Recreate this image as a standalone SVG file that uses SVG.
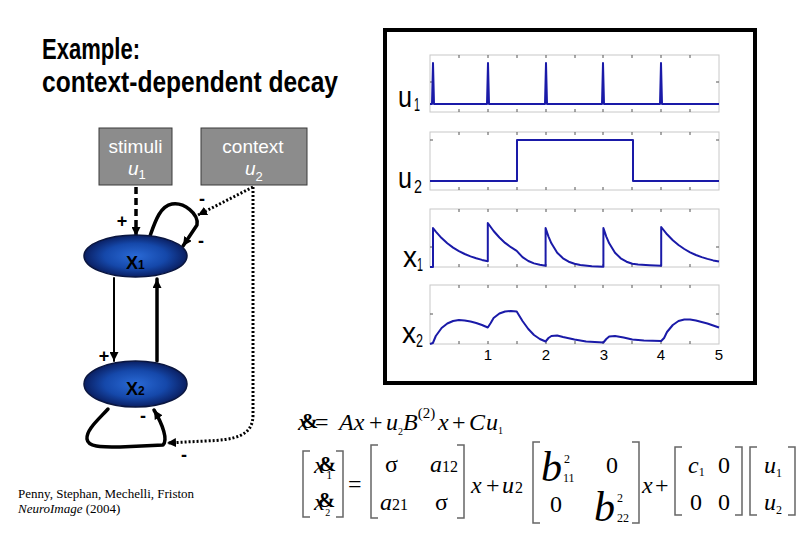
<svg xmlns="http://www.w3.org/2000/svg" width="810" height="540" viewBox="0 0 810 540">
<style>
.title{font-family:"Liberation Sans",Arial,sans-serif;font-weight:bold;font-size:30px;fill:#000}
.box{fill:#8c8c8c;stroke:#3a3a3a;stroke-width:1}
.bt{font-family:"Liberation Sans",Arial,sans-serif;font-size:19px;fill:#fff}
.bi{font-family:"Liberation Sans",Arial,sans-serif;font-size:19px;font-style:italic;fill:#fff}
.bs{font-family:"Liberation Sans",Arial,sans-serif;font-size:13px;font-style:normal}
.node{fill:url(#blue);stroke:#0a1640;stroke-width:1.5}
.nt{font-family:"Liberation Sans",Arial,sans-serif;font-size:18px;font-weight:bold;fill:#000}
.ns{font-size:12px}
.sign{font-family:"Liberation Sans",Arial,sans-serif;font-size:18px;font-weight:bold;fill:#000;text-anchor:middle}
.solid{fill:none;stroke:#000;stroke-linecap:round;stroke-linejoin:round}
.dot{fill:none;stroke:#000;stroke-width:3;stroke-dasharray:2 2}
.dash{fill:none;stroke:#000;stroke-width:3.5;stroke-dasharray:7 4}
.ax{fill:none;stroke:#c8c8c8;stroke-width:1}
.tk{fill:none;stroke:#555;stroke-width:1}
.data{fill:none;stroke:#1a1aa8;stroke-width:2;stroke-linejoin:round}
.pl{font-family:"Liberation Sans",Arial,sans-serif;font-size:30px;fill:#000}
.ps{font-family:"Liberation Sans",Arial,sans-serif;font-size:19px;fill:#000}
.tl{font-family:"Liberation Sans",Arial,sans-serif;font-size:15px;fill:#000;text-anchor:middle}
.m{font-family:"Liberation Serif","Times New Roman",serif;font-size:24px;fill:#000}
.mi{font-family:"Liberation Serif","Times New Roman",serif;font-size:24px;font-style:italic;fill:#000}
.amp{font-family:"Liberation Serif","Times New Roman",serif;font-size:21px;font-weight:bold;font-style:normal;fill:#000}
.sub{font-family:"Liberation Serif","Times New Roman",serif;font-size:12px;fill:#000}
.ts{font-size:12px;font-style:normal;font-weight:normal}
.t10{font-size:10px;font-style:normal}
.t15{font-size:15px;font-style:normal}
.t16{font-size:16px;font-style:normal}
.big{font-family:"Liberation Serif","Times New Roman",serif;font-size:42px;font-style:italic;fill:#000}
.br{fill:none;stroke:#666;stroke-width:1.5}
.cite{font-family:"Liberation Serif","Times New Roman",serif;font-size:13px;fill:#000}
</style>
<defs>
<radialGradient id="blue" cx="50%" cy="50%" r="50%">
<stop offset="0" stop-color="#2a6ad6"/>
<stop offset="0.6" stop-color="#1548aa"/>
<stop offset="1" stop-color="#0a1f62"/>
</radialGradient>
<marker id="ah" viewBox="0 0 10 10" refX="10" refY="5" markerWidth="9" markerHeight="9" markerUnits="userSpaceOnUse" orient="auto">
<path d="M0,0 L10,5 L0,10 z" fill="#000"/>
</marker>
</defs>
<rect width="810" height="540" fill="#fff"/>

<g id="title">
<text class="title" x="42" y="59" textLength="98" lengthAdjust="spacingAndGlyphs">Example:</text>
<text class="title" x="42" y="92" textLength="296" lengthAdjust="spacingAndGlyphs">context-dependent decay</text>
</g>

<g id="stimuli">
<rect class="box" x="99" y="128" width="73" height="57"/>
<text class="bt" x="135.5" y="153" text-anchor="middle">stimuli</text>
<text class="bi" x="128" y="175">u<tspan class="bs" dy="4">1</tspan></text>
</g>

<g id="context">
<rect class="box" x="201" y="128" width="106" height="57"/>
<text class="bt" x="253" y="153" text-anchor="middle">context</text>
<text class="bi" x="245" y="175">u<tspan class="bs" dy="6">2</tspan></text>
</g>

<g id="connectors">
<line class="dash" x1="136" y1="187" x2="136" y2="236" marker-end="url(#ah)"/>
<path class="solid" stroke-width="3.5" d="M150,236 C155,222 160,206 172,204 C184,202 199,214 197,225 L183,246" marker-end="url(#ah)"/>
<path class="dot" d="M253,187 L198,215" marker-end="url(#ah)"/>
<line class="solid" stroke-width="2" x1="114" y1="278" x2="114" y2="361" marker-end="url(#ah)"/>
<line class="solid" stroke-width="3.5" x1="157" y1="361" x2="157" y2="279" marker-end="url(#ah)"/>
<path class="solid" stroke-width="3.5" d="M108,409 C98,420 86,430 87,439 C88,447 100,447 120,447 L163,445 C168,440 163,425 154,410" marker-end="url(#ah)"/>
<path class="dot" d="M253,187 L253,415 C253,436 235,440 205,441 L167,443" marker-end="url(#ah)"/>
<text class="sign" x="122" y="227">+</text>
<text class="sign" x="202" y="205">-</text>
<text class="sign" x="201" y="247">-</text>
<text class="sign" x="104" y="362">+</text>
<text class="sign" x="143" y="422">-</text>
<text class="sign" x="184" y="461">-</text>
</g>

<g id="x1">
<ellipse class="node" cx="135.5" cy="256" rx="51.5" ry="21"/>
<text class="nt" x="126" y="269">X<tspan class="ns">1</tspan></text>
</g>

<g id="x2">
<ellipse class="node" cx="135.5" cy="384" rx="51.5" ry="23"/>
<text class="nt" x="126" y="395">X<tspan class="ns">2</tspan></text>
</g>

<g id="plots">
<rect x="385" y="30" width="370" height="353" fill="#fff" stroke="#000" stroke-width="4"/>
<rect class="ax" x="430" y="55" width="289" height="57"/>
<rect class="ax" x="430" y="132" width="289" height="58"/>
<rect class="ax" x="430" y="209" width="289" height="58"/>
<rect class="ax" x="430" y="285" width="289" height="59"/>
<path class="tk" d="M459,55v3M488,55v3M517,55v3M546,55v3M575,55v3M603,55v3M632,55v3M661,55v3M690,55v3M459,112v-3M488,112v-3M517,112v-3M546,112v-3M575,112v-3M603,112v-3M632,112v-3M661,112v-3M690,112v-3M430,82h3M719,82h-3
M459,132v3M488,132v3M517,132v3M546,132v3M575,132v3M603,132v3M632,132v3M661,132v3M690,132v3M459,190v-3M488,190v-3M517,190v-3M546,190v-3M575,190v-3M603,190v-3M632,190v-3M661,190v-3M690,190v-3M430,140h3M719,140h-3
M459,209v3M488,209v3M517,209v3M546,209v3M575,209v3M603,209v3M632,209v3M661,209v3M690,209v3M459,267v-3M488,267v-3M517,267v-3M546,267v-3M575,267v-3M603,267v-3M632,267v-3M661,267v-3M690,267v-3M430,247h3M719,247h-3
M459,285v3M488,285v3M517,285v3M546,285v3M575,285v3M603,285v3M632,285v3M661,285v3M690,285v3M459,344v-3M488,344v-3M517,344v-3M546,344v-3M575,344v-3M603,344v-3M632,344v-3M661,344v-3M690,344v-3M430,314h3M719,314h-3"/>
<polyline class="data" points="430,104 432,104 433,63 434,104 487,104 488,63 489,104 545,104 546,63 547,104 602,104 603,63 604,104 660,104 661,63 662,104 719,104"/>
<polyline class="data" points="430,181 517,181 517,140 633,140 633,181 719,181"/>
<polyline class="data" points="430,267 433,267 433,228 435.8,231.7 441.6,238.1 447.3,243.3 453.1,247.6 458.9,251.1 464.7,254 470.5,256.4 476.2,258.3 482,259.9 487.8,261.2 487.8,223 493.6,231 499.4,237.5 505.1,242.9 510.9,247.2 516.7,250.8 522.5,257.2 528.3,261 534,263.4 539.8,264.8 545.6,265.7 545.6,228 548.5,236.6 551.4,243.3 557.2,252.7 563,258.3 568.7,261.7 574.5,263.8 580.3,265.1 591.8,266.3 603.4,266.8 603.4,228 606.3,236.6 609.2,243.3 615,252.7 620.7,258.3 626.5,261.7 632.3,263.8 638.1,264.4 649.6,265.2 661.2,265.8 661.2,227 667,234.3 672.8,240.2 678.5,245 684.3,249 690.1,252.3 695.9,255 701.7,257.1 707.4,258.9 713.2,260.4 719,261.6"/>
<polyline class="data" points="430,344 432.9,343 435.8,336 441.6,328 447.3,323.5 453.1,321 458.9,320 464.7,320.5 470.5,321.5 476.2,323 482,325 487.8,327.5 490.7,323 493.6,318 499.4,313.5 505.1,311.5 510.9,311 516.7,311.5 522.5,321 528.3,329 534,335 539.8,339 545.6,341.5 548.5,338 551.4,336 557.2,335.5 563,337 574.5,339.5 586.1,341.5 603.4,342.5 606.3,339 609.2,336.5 615,336 623.6,337.5 632.3,339.5 643.9,340.5 661.2,341 664.1,338 667,332 672.8,325 678.5,321 684.3,319.5 690.1,319.5 695.9,320.5 707.4,323.5 719,327.5"/>
<text class="pl" x="398" y="107" textLength="14" lengthAdjust="spacingAndGlyphs">u</text><text class="ps" x="414" y="111" textLength="6" lengthAdjust="spacingAndGlyphs">1</text>
<text class="pl" x="398" y="188" textLength="14" lengthAdjust="spacingAndGlyphs">u</text><text class="ps" x="414" y="193" textLength="8" lengthAdjust="spacingAndGlyphs">2</text>
<text class="pl" x="403" y="267" textLength="14" lengthAdjust="spacingAndGlyphs">x</text><text class="ps" x="417" y="271" textLength="6" lengthAdjust="spacingAndGlyphs">1</text>
<text class="pl" x="402" y="343" textLength="14" lengthAdjust="spacingAndGlyphs">x</text><text class="ps" x="416" y="347" textLength="7" lengthAdjust="spacingAndGlyphs">2</text>
<text class="tl" x="488" y="360">1</text>
<text class="tl" x="546" y="360">2</text>
<text class="tl" x="604" y="360">3</text>
<text class="tl" x="661" y="360">4</text>
<text class="tl" x="719" y="360">5</text>
</g>

<g id="equation1">
<text class="mi" x="298" y="430">x<tspan class="amp" dx="-8" dy="-2">&amp;</tspan></text>
<text class="m" x="315" y="430">=</text>
<text class="mi" x="339" y="430">Ax</text>
<text class="m" x="369" y="430">+</text>
<text class="mi" x="386" y="430">u<tspan class="t10" dy="5">2</tspan></text>
<text class="mi" x="403" y="430">B<tspan class="t15" dy="-12">(2)</tspan></text>
<text class="mi" x="438" y="430">x</text>
<text class="m" x="452" y="430">+</text>
<text class="mi" x="469" y="430">C</text>
<text class="mi" x="486" y="430">u<tspan class="t10" dy="4">1</tspan></text>
</g>

<g id="equation2">
<path class="br" d="M310,451H303V517H310M336,451H343V517H336"/>
<text class="mi" x="314" y="473" fill="#333">x<tspan class="amp" dx="-6" dy="-2" fill="#000">&amp;</tspan><tspan class="ts" dx="-10" dy="8">1</tspan></text>
<text class="mi" x="314" y="510" fill="#333">x<tspan class="amp" dx="-7" dy="-3" fill="#000">&amp;</tspan><tspan class="t10" dx="-10" dy="9">2</tspan></text>
<text class="m" x="348" y="492" fill="#777">=</text>
<path class="br" d="M378,445H371V518H378M457,445H464V518H457"/>
<text class="m" x="385" y="472">σ</text>
<text class="mi" x="430" y="472">a<tspan class="t16">12</tspan></text>
<text class="mi" x="380" y="510">a<tspan class="t16">21</tspan></text>
<text class="m" x="435" y="510">σ</text>
<text class="mi" x="471" y="493">x</text>
<text class="m" x="486" y="493">+</text>
<text class="mi" x="502" y="493">u<tspan class="t16" dx="1">2</tspan></text>
<path class="br" stroke="#333" d="M540,442H533V523H540M632,442H639V523H632"/>
<text class="big" x="541" y="481">b</text>
<text class="sub" x="564" y="463">2</text>
<text class="sub" x="563" y="482">11</text>
<text class="m" x="606" y="473">0</text>
<text class="m" x="550" y="512">0</text>
<text class="big" x="594" y="521">b</text>
<text class="sub" x="617" y="502">2</text>
<text class="sub" x="617" y="522">22</text>
<text class="mi" x="642" y="493">x</text>
<text class="m" x="655" y="493">+</text>
<path class="br" stroke="#333" d="M682,447H675V515H682M735,447H742V515H735"/>
<text class="mi" x="688" y="473">c<tspan class="ts" dy="3">1</tspan></text>
<text class="m" x="718" y="473">0</text>
<text class="m" x="690" y="510">0</text>
<text class="m" x="718" y="510">0</text>
<path class="br" stroke="#333" d="M757,447H750V515H757M788,447H795V515H788"/>
<text class="mi" x="764" y="473">u<tspan class="ts" dy="4">1</tspan></text>
<text class="mi" x="764" y="510">u<tspan class="ts" dy="4">2</tspan></text>
</g>

<g id="citation">
<text class="cite" x="18" y="498">Penny, Stephan, Mechelli, Friston</text>
<text class="cite" x="18" y="513"><tspan font-style="italic">NeuroImage</tspan> (2004)</text>
</g>
</svg>
